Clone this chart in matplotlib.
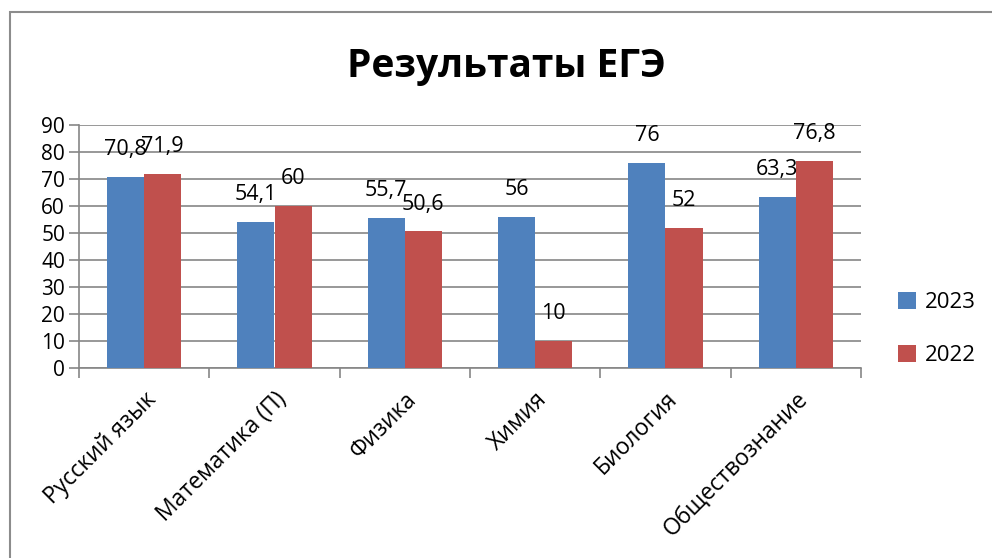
import matplotlib
matplotlib.use("Agg")
import matplotlib.pyplot as plt
import matplotlib.transforms as mtransforms
import numpy as np
from matplotlib.patches import Rectangle

subjects = ["Русский язык", "Математика (П)", "Физика", "Химия",
            "Биология", "Обществознание"]
scores_2023 = [70.8, 54.1, 55.7, 56, 76, 63.3]
scores_2022 = [71.9, 60, 50.6, 10, 52, 76.8]
years = ["2023", "2022"]
colors = ["#4F81BD", "#C0504D"]

plt.rcParams["font.family"] = ["Open Sans", "DejaVu Sans"]

fig = plt.figure(figsize=(9.92, 5.58), dpi=100)
ax = fig.add_axes([79 / 992, 1 - 368 / 558, (861 - 79) / 992, (368 - 125) / 558])

# outer chart border (Excel style)
fig.patches.append(Rectangle((10 / 992, -0.1), 1.2, 1 - 12 / 558 + 0.1,
                             transform=fig.transFigure, fill=False,
                             edgecolor="#8c8c8c", linewidth=1.5))

x = np.arange(len(subjects))
w = 0.284
bars = []
for i, (vals, c, lab) in enumerate(zip([scores_2023, scores_2022], colors, years)):
    b = ax.bar(x + (i - 0.5) * w, vals, w, color=c, label=lab, zorder=3)
    bars.append(b)
    for rect, v in zip(b, vals):
        ax.annotate(("%g" % v).replace(".", ","),
                    (rect.get_x() + rect.get_width() / 2, rect.get_height()),
                    xytext=(0, 12), textcoords="offset points",
                    ha="center", va="bottom", fontsize=15.5, zorder=5)

ax.set_xlim(-0.5, len(subjects) - 0.5)
ax.set_ylim(0, 90)
ax.set_yticks(np.arange(0, 91, 10))
ax.yaxis.grid(True, color="#868686", linewidth=1.2, zorder=0)
ax.set_axisbelow(True)

ax.set_xticks(x)
ax.set_xticklabels(subjects, rotation=45, ha="right", va="top",
                   rotation_mode="anchor", fontsize=16.5)
shift = mtransforms.ScaledTranslation(-8 / 100, -2 / 100, fig.dpi_scale_trans)
for t in ax.get_xticklabels():
    t.set_transform(t.get_transform() + shift)
ax.set_xticks(np.arange(-0.5, len(subjects)), minor=True)
ax.tick_params(axis="x", which="major", length=0, pad=14)
ax.tick_params(axis="x", which="minor", length=7, color="#868686", width=1.2)
ax.tick_params(axis="y", length=7, color="#868686", width=1.2, labelsize=15, pad=3)

for s in ["top", "right"]:
    ax.spines[s].set_visible(False)
for s in ["left", "bottom"]:
    ax.spines[s].set_color("#868686")
    ax.spines[s].set_linewidth(1.2)

fig.text(506 / 992, 1 - 67 / 558, "Результаты ЕГЭ", ha="center", va="center",
         fontsize=28, fontweight="bold")

fig.legend(handles=bars, labels=years, loc="center left",
           bbox_to_anchor=(878 / 992, 1 - 329 / 558), frameon=False,
           fontsize=16, handlelength=0.8, handleheight=0.8,
           handletextpad=0.4, labelspacing=1.4)

fig.savefig("out.png", dpi=100)
